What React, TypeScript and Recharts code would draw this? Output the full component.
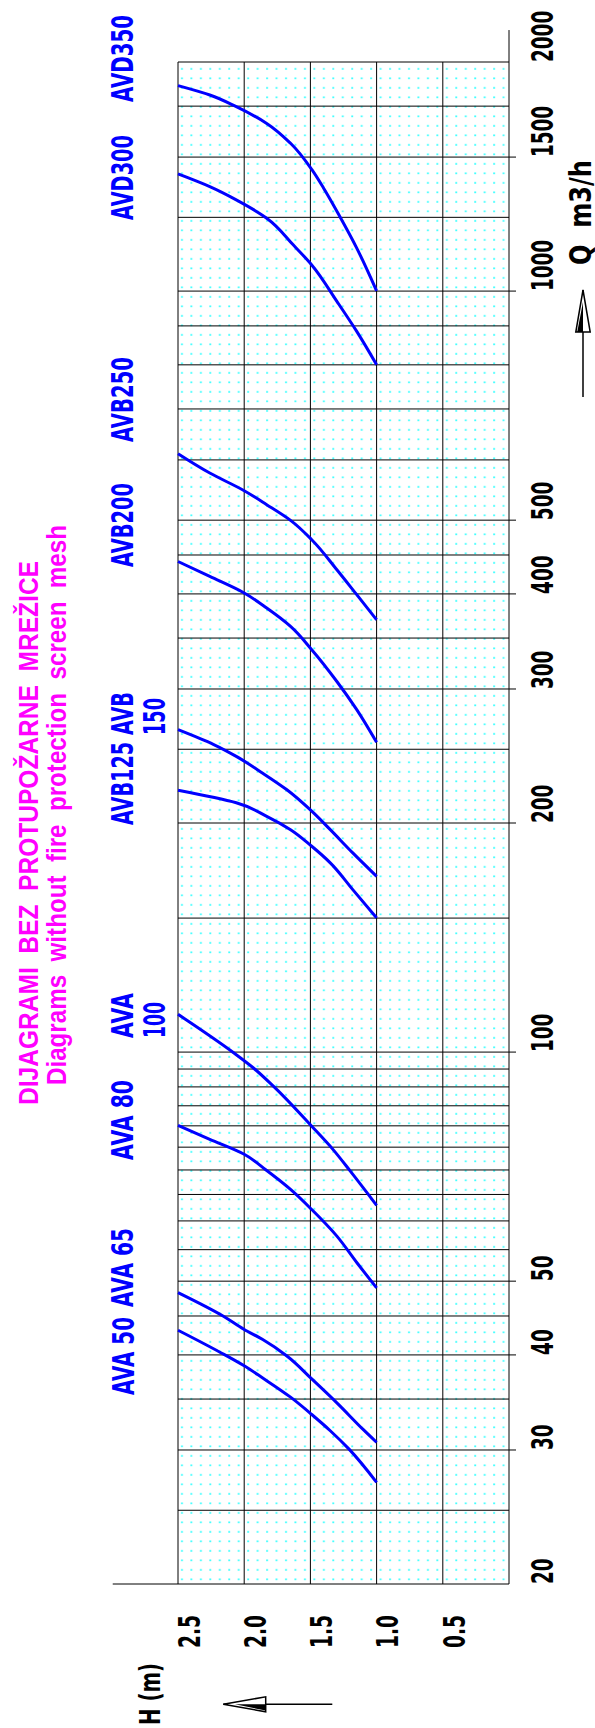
import React from 'react';
import { LineChart, Line, XAxis, YAxis, CartesianGrid, ReferenceLine } from 'recharts';

// chart is drawn lying down (Q along x, H along y) and turned -90deg
const W = 1728;
const HGT = 595;
const PLOT_BOTTOM = 509;

const gridQ = [20, 25, 30, 35, 40, 45, 50, 55, 60, 65, 70, 75, 80, 85, 90, 95, 100, 150, 200, 250, 300, 350, 400, 450, 500, 600, 700, 800, 900, 1000, 1250, 1500, 1750, 2000];
const labelQ = [20, 30, 40, 50, 100, 200, 300, 400, 500, 1000, 1500, 2000];
const longTickQ = [30, 40, 50, 100, 200, 300, 400, 500, 1000, 1500];
const hTicks = [0, 0.5, 1, 1.5, 2, 2.5];

// Q (m3/h), H (m) at the same points
const ava50Q = [27.2, 30.1, 31.8, 33.4, 35.2, 37.3, 38.7, 40.3, 43.1];
const ava50H = [1.0, 1.21, 1.35, 1.49, 1.65, 1.86, 2.0, 2.18, 2.5];
const ava65Q = [30.7, 31.9, 34.6, 37.2, 39.9, 41.9, 43.2, 45.0, 48.3];
const ava65H = [1.0, 1.1, 1.3, 1.49, 1.68, 1.86, 2.0, 2.16, 2.5];
const ava80Q = [49.0, 52.9, 57.3, 62.1, 66.0, 70.1, 73.4, 76.8, 80.1];
const ava80H = [1.0, 1.15, 1.3, 1.49, 1.65, 1.84, 2.0, 2.26, 2.5];
const ava100Q = [62.9, 69.8, 74.5, 79.9, 90.2, 95.3, 99.8, 112.1];
const ava100H = [1.0, 1.2, 1.33, 1.49, 1.78, 1.93, 2.08, 2.5];
const avb125Q = [150.1, 163.5, 177.3, 186.4, 196.0, 204.1, 212.6, 220.8];
const avb125H = [1.0, 1.18, 1.35, 1.49, 1.65, 1.83, 2.06, 2.5];
const avb150Q = [170.2, 182.7, 196.0, 207.3, 221.3, 232.5, 244.7, 253.6, 265.3];
const avb150H = [1.0, 1.18, 1.35, 1.49, 1.68, 1.86, 2.06, 2.23, 2.5];
const avb200Q = [255.3, 281.8, 306.9, 337.9, 362.6, 383.3, 401.1, 421.7, 441.2];
const avb200H = [1.0, 1.15, 1.3, 1.49, 1.65, 1.83, 2.0, 2.26, 2.5];
const avb250Q = [369.9, 399.1, 430.4, 471.3, 499.7, 524.0, 546.6, 576.6, 611.3];
const avb250H = [1.0, 1.15, 1.3, 1.49, 1.65, 1.83, 2.0, 2.26, 2.5];
const avd300Q = [800.2, 885.1, 969.3, 1082.4, 1150.2, 1246.8, 1317.9, 1371.7, 1425.5];
const avd300H = [1.0, 1.15, 1.3, 1.49, 1.63, 1.83, 2.06, 2.26, 2.5];
const avd350Q = [1000.6, 1139, 1255, 1365, 1445, 1564, 1661, 1747, 1810, 1862];
const avd350H = [1.0, 1.15, 1.28, 1.4, 1.49, 1.65, 1.83, 2.06, 2.26, 2.5];

const series = [
  { name: 'AVA 50', q: ava50Q, h: ava50H },
  { name: 'AVA 65', q: ava65Q, h: ava65H },
  { name: 'AVA 80', q: ava80Q, h: ava80H },
  { name: 'AVA 100', q: ava100Q, h: ava100H },
  { name: 'AVB125', q: avb125Q, h: avb125H },
  { name: 'AVB 150', q: avb150Q, h: avb150H },
  { name: 'AVB200', q: avb200Q, h: avb200H },
  { name: 'AVB250', q: avb250Q, h: avb250H },
  { name: 'AVD300', q: avd300Q, h: avd300H },
  { name: 'AVD350', q: avd350Q, h: avd350H },
];

const NUM_FONT = "'DejaVu Sans', sans-serif";
const TITLE_FONT = "'Liberation Sans', Arial, sans-serif";
const BLUE = '#0000ff';
const MAGENTA = '#ff00ff';

const QTick = (props: any) => {
  const { x, payload } = props;
  const v = payload.value;
  return (
    <g>
      {longTickQ.includes(v) && (
        <line x1={x} x2={x} y1={PLOT_BOTTOM} y2={PLOT_BOTTOM + 7} stroke="#000" strokeWidth={1} />
      )}
      {labelQ.includes(v) && (
        <text
          x={x}
          y={553}
          textAnchor="start"
          fontFamily={NUM_FONT}
          fontWeight="bold"
          fontSize={31}
          fill="#000"
          textLength={String(v).length * 12.8}
          lengthAdjust="spacingAndGlyphs"
        >
          {v}
        </text>
      )}
    </g>
  );
};

const HTick = (props: any) => {
  const { y, payload } = props;
  if (payload.value === 0) return <g />;
  return (
    <text
      x={113}
      y={y + 21.7}
      textAnchor="end"
      fontFamily={NUM_FONT}
      fontWeight="bold"
      fontSize={30}
      fill="#000"
      textLength={33}
      lengthAdjust="spacingAndGlyphs"
    >
      {payload.value.toFixed(1)}
    </text>
  );
};

// curve names: [text, start x, baseline, length]
const curveLabels: [string, number, number, number][] = [
  ['AVD350', 1626, 133, 87],
  ['AVD300', 1508, 133, 85],
  ['AVB250', 1286, 133, 85],
  ['AVB200', 1161, 133, 84],
  ['AVB125 AVB', 903, 133, 133],
  ['150', 993, 165, 37],
  ['AVA', 690, 133, 45],
  ['100', 690, 165, 36],
  ['AVA 80', 568, 133, 80],
  ['AVA 65', 421, 133, 79],
  ['AVA 50', 333, 134, 78],
];

const Overlay = () => (
  <svg width={W} height={HGT} style={{ position: 'absolute', left: 0, top: 0, pointerEvents: 'none' }}>
    <text x={895} y={38} textAnchor="middle" fontFamily={TITLE_FONT} fontWeight="bold" fontSize={28}
      fill={MAGENTA} textLength={544} lengthAdjust="spacingAndGlyphs"
      style={{ whiteSpace: 'pre' }}>
      {'DIJAGRAMI  BEZ  PROTUPOŽARNE  MREŽICE'}
    </text>
    <text x={923} y={66} textAnchor="middle" fontFamily={TITLE_FONT} fontWeight="bold" fontSize={27}
      fill={MAGENTA} textLength={560} lengthAdjust="spacingAndGlyphs"
      style={{ whiteSpace: 'pre' }}>
      {'Diagrams  without  fire  protection  screen  mesh'}
    </text>

    {curveLabels.map(([t, x, y, len]) => (
      <text key={t + x} x={x} y={y} fontFamily={NUM_FONT} fontWeight="bold" fontSize={30} fill={BLUE}
        textLength={len} lengthAdjust="spacingAndGlyphs" style={{ whiteSpace: 'pre' }}>
        {t}
      </text>
    ))}

    <text x={3} y={160} fontFamily={NUM_FONT} fontWeight="bold" fontSize={28} fill="#000"
      textLength={62} lengthAdjust="spacingAndGlyphs" style={{ whiteSpace: 'pre' }}>
      H (m)
    </text>
    <text x={1463} y={591} fontFamily={NUM_FONT} fontWeight="bold" fontSize={31} fill="#000"
      textLength={105} lengthAdjust="spacingAndGlyphs" style={{ whiteSpace: 'pre' }}>
      {'Q  m3/h'}
    </text>

    {/* H arrow */}
    <line x1={23.7} y1={223.3} x2={23.7} y2={332.3} stroke="#000" strokeWidth={1.5} />
    <polygon points="23.7,223.3 16.2,265.7 31.2,265.7" fill="#fff" stroke="#000" strokeWidth={1.5} />
    <polygon points="23.7,235 23.7,265.7 17.5,265.7" fill="#000" />
    {/* Q arrow */}
    <line x1={1331} y1={583} x2={1438} y2={583} stroke="#000" strokeWidth={1.5} />
    <polygon points="1438,583 1396,575.8 1396,590.2" fill="#fff" stroke="#000" strokeWidth={1.5} />
    <polygon points="1426,583 1396,583 1396,577.2" fill="#000" />
  </svg>
);

export default function App() {
  return (
    <div style={{ position: 'absolute', left: 0, top: 0, width: HGT, height: W, overflow: 'hidden', background: '#fff' }}>
      <div
        style={{
          position: 'absolute',
          left: 0,
          top: 0,
          width: W,
          height: HGT,
          transformOrigin: '0 0',
          transform: `translateY(${W}px) rotate(-90deg)`,
        }}
      >
        <LineChart width={W} height={HGT} margin={{ top: 178, right: 62, bottom: 0, left: 0 }}>
          <defs>
            <pattern id="dots" patternUnits="userSpaceOnUse" x={144} y={178} width={9.5} height={9.46}>
              <rect x={4} y={3} width={1.3} height={1.9} fill="#00ffff" />
            </pattern>
          </defs>
          <CartesianGrid stroke="#000" strokeWidth={1} fill="url(#dots)" fillOpacity={1} />
          <XAxis
            dataKey="q"
            type="number"
            scale="log"
            domain={[20, 2000]}
            ticks={gridQ}
            interval={0}
            height={86}
            axisLine={false}
            tickLine={false}
            tick={<QTick />}
            allowDataOverflow
          />
          <YAxis
            type="number"
            domain={[0, 2.5]}
            ticks={hTicks}
            interval={0}
            width={144}
            axisLine={false}
            tickLine={false}
            tick={<HTick />}
          />
          <ReferenceLine segment={[{ x: 20, y: 2.5 }, { x: 20, y: 2.993 }]} stroke="#000" strokeWidth={1} ifOverflow="visible" />
          <ReferenceLine segment={[{ x: 2000, y: 0 }, { x: 2203, y: 0 }]} stroke="#000" strokeWidth={1} ifOverflow="visible" />
          {series.map((s) => (
            <Line
              key={s.name}
              name={s.name}
              data={s.q.map((q, i) => ({ q, h: s.h[i] }))}
              dataKey="h"
              type="monotone"
              stroke={BLUE}
              strokeWidth={3}
              dot={false}
              activeDot={false}
              isAnimationActive={false}
            />
          ))}
        </LineChart>
        <Overlay />
      </div>
    </div>
  );
}
